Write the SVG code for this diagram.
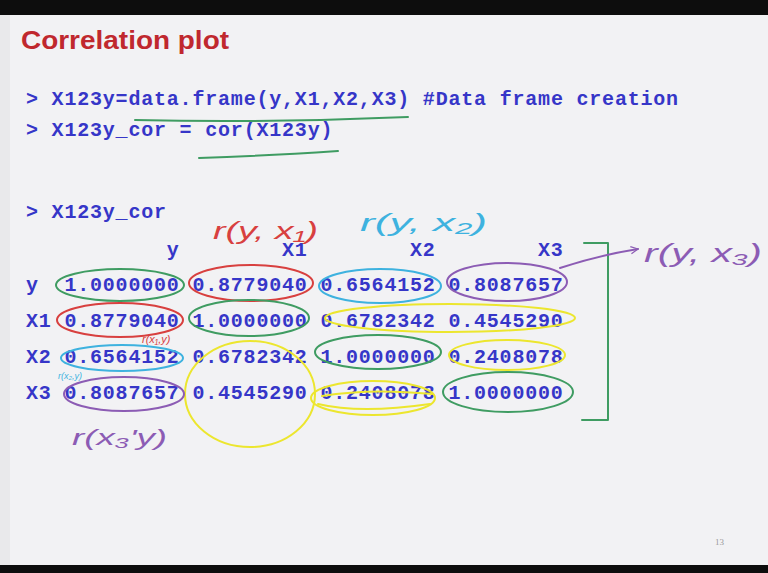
<svg xmlns="http://www.w3.org/2000/svg" width="768" height="573" viewBox="0 0 768 573">
  <defs>
    <style>
      .code { font-family: "Liberation Mono", "DejaVu Sans Mono", monospace; font-weight: bold; font-size: 20px; letter-spacing: 0.8px; fill: #3636c8; }
      .hand { font-family: "Liberation Sans", "DejaVu Sans", sans-serif; font-style: italic; font-weight: normal; }
      .ink { fill: none; stroke-width: 2; stroke-linecap: round; stroke-linejoin: round; }
      .g { stroke: #3f9c62; }
      .r { stroke: #d8403f; }
      .c { stroke: #3eb2df; }
      .p { stroke: #8c5cb4; }
      .yl { stroke: #ece62e; }
    </style>
    <marker id="arrowP" viewBox="0 0 10 10" refX="9" refY="5" markerWidth="9" markerHeight="9" orient="auto" markerUnits="userSpaceOnUse">
      <path d="M1,1 L9,5 L1,9" fill="none" stroke="#8c5cb4" stroke-width="1.4"/>
    </marker>
  </defs>

  <!-- slide background -->
  <rect x="0" y="0" width="768" height="573" fill="#f2f2f4"/>
  <rect x="0" y="15" width="10" height="550" fill="#e9e9eb"/>
  <rect x="0" y="0" width="768" height="15" fill="#0d0d0d"/>
  <rect x="0" y="565" width="768" height="8" fill="#0d0d0d"/>

  <!-- title -->
  <g id="title">
    <text x="21" y="49" font-family="Liberation Sans, Arial, sans-serif" font-weight="bold" font-size="25" fill="#c0282e" textLength="208" lengthAdjust="spacingAndGlyphs">Correlation plot</text>
  </g>

  <!-- code lines -->
  <g id="code">
    <text class="code" x="26" y="105">&gt; X123y=data.frame(y,X1,X2,X3) #Data frame creation</text>
    <text class="code" x="26" y="136">&gt; X123y_cor = cor(X123y)</text>
    <text class="code" x="26" y="218">&gt; X123y_cor</text>
  </g>

  <!-- correlation table -->
  <g id="table">
    <text class="code" x="166.8" y="256">y</text>
    <text class="code" x="282" y="256">X1</text>
    <text class="code" x="410" y="256">X2</text>
    <text class="code" x="538" y="256">X3</text>

    <text class="code" x="26" y="291">y</text>
    <text class="code" x="64.4" y="291">1.0000000</text>
    <text class="code" x="192.4" y="291">0.8779040</text>
    <text class="code" x="320.4" y="291">0.6564152</text>
    <text class="code" x="448.4" y="291">0.8087657</text>

    <text class="code" x="26" y="327">X1</text>
    <text class="code" x="64.4" y="327">0.8779040</text>
    <text class="code" x="192.4" y="327">1.0000000</text>
    <text class="code" x="320.4" y="327">0.6782342</text>
    <text class="code" x="448.4" y="327">0.4545290</text>

    <text class="code" x="26" y="363">X2</text>
    <text class="code" x="64.4" y="363">0.6564152</text>
    <text class="code" x="192.4" y="363">0.6782342</text>
    <text class="code" x="320.4" y="363">1.0000000</text>
    <text class="code" x="448.4" y="363">0.2408078</text>

    <text class="code" x="26" y="399">X3</text>
    <text class="code" x="64.4" y="399">0.8087657</text>
    <text class="code" x="192.4" y="399">0.4545290</text>
    <text class="code" x="320.4" y="399">0.2408078</text>
    <text class="code" x="448.4" y="399">1.0000000</text>
  </g>

  <!-- hand-drawn underlines -->
  <g id="underlines">
    <path class="ink g" d="M135,120 Q270,123 408,117"/>
    <path class="ink g" d="M199,158 Q262,156 338,151"/>
  </g>

  <!-- hand-drawn circles -->
  <g id="circles">
    <ellipse class="ink yl" cx="250" cy="394" rx="65" ry="53"/>
    <ellipse class="ink yl" cx="450" cy="318" rx="125" ry="14"/>
    <ellipse class="ink yl" cx="507" cy="355" rx="58" ry="15"/>
    <ellipse class="ink yl" cx="373" cy="398" rx="62" ry="17"/>
    <path class="ink yl" d="M318,404 Q360,414 430,404 M322,396 Q370,388 432,394"/>

    <ellipse class="ink g" cx="120" cy="285" rx="64" ry="16"/>
    <ellipse class="ink r" cx="251" cy="283" rx="62" ry="18"/>
    <ellipse class="ink c" cx="380" cy="286" rx="61" ry="17"/>
    <ellipse class="ink p" cx="507" cy="282" rx="60" ry="19"/>

    <ellipse class="ink r" cx="120" cy="320" rx="63" ry="17"/>
    <ellipse class="ink g" cx="249" cy="318" rx="60" ry="18"/>

    <ellipse class="ink c" cx="122" cy="358" rx="61" ry="13"/>
    <ellipse class="ink g" cx="378" cy="352" rx="63" ry="17"/>

    <ellipse class="ink p" cx="124" cy="394" rx="60" ry="17"/>
    <ellipse class="ink g" cx="508" cy="392" rx="65" ry="20"/>

    <path class="ink g" d="M584,243 H608 V420 H582"/>
  </g>

  <!-- connectors -->
  <g id="connectors">
    <path class="ink p" d="M560,268 Q600,255 638,249" marker-end="url(#arrowP)"/>
  </g>

  <!-- handwritten labels -->
  <g id="labels">
    <text class="hand" x="213" y="239" font-size="24" fill="#d8403f" textLength="105" lengthAdjust="spacingAndGlyphs">r(y, x₁)</text>
    <text class="hand" x="360" y="231" font-size="24" fill="#3eb2df" textLength="127" lengthAdjust="spacingAndGlyphs">r(y, x₂)</text>
    <text class="hand" x="644" y="262" font-size="25" fill="#8c5cb4" textLength="118" lengthAdjust="spacingAndGlyphs">r(y, x₃)</text>
    <text class="hand" x="142" y="343" font-size="11" fill="#d8403f">r(x₁,y)</text>
    <text class="hand" x="58" y="379" font-size="9" fill="#3eb2df">r(x₂,y)</text>
    <text class="hand" x="72" y="445" font-size="22" fill="#8c5cb4" textLength="95" lengthAdjust="spacingAndGlyphs">r(x₃'y)</text>
  </g>

  <!-- page number -->
  <g id="pagenum">
    <text x="715" y="545" font-family="Liberation Serif, serif" font-size="9" fill="#9a9a9a">13</text>
  </g>
</svg>
